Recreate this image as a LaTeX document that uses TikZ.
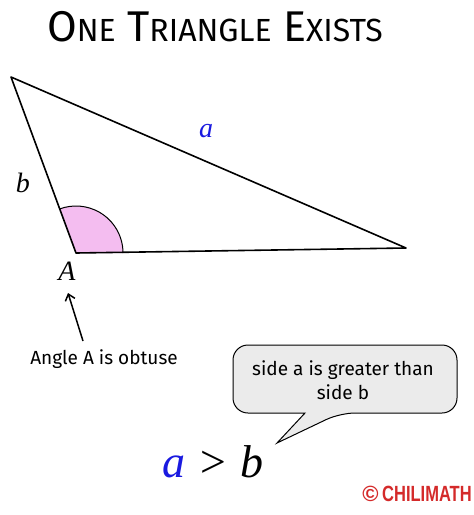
\documentclass[tikz,border=0pt]{standalone}
\usepackage{fontspec}
\setmainfont{Liberation Serif}
\newfontfamily\handfont{Fira Sans}
\newfontfamily\brandfont{Liberation Sans}
\usetikzlibrary{arrows.meta,calc}
\definecolor{angpink}{HTML}{F4BDF0}
\definecolor{calloutgray}{HTML}{EBEBEB}
\definecolor{brandred}{HTML}{D42A2A}
\definecolor{sideblue}{HTML}{1A1AE0}
\begin{document}
\begin{tikzpicture}[x=1pt,y=-1pt,
  edge/.style={line width=1.6pt, line join=round},
  lbl/.style={inner sep=0pt, font=\fontsize{28}{32}\selectfont\itshape},
  hand/.style={inner sep=0pt, font=\handfont\fontsize{19}{24}\selectfont, align=center}]
\useasboundingbox (0,0) rectangle (474,515);
% title
\node[inner sep=0pt, font=\handfont\fontsize{43}{48}\selectfont] (title) at (215,27)
  {O{\fontsize{32}{36}\selectfont NE} T{\fontsize{32}{36}\selectfont RIANGLE} E{\fontsize{32}{36}\selectfont XISTS}};
% triangle
\coordinate (C) at (11,77);
\coordinate (A) at (76,253);
\coordinate (B) at (406,248);
\coordinate (arcstart) at (123,253);
\fill[angpink] (A) -- (arcstart) arc[start angle=0, end angle=-110.3, radius=47] -- cycle;
\draw[line width=1pt] (arcstart) arc[start angle=0, end angle=-110.3, radius=47];
\draw[edge] (C) -- (A) -- (B) -- cycle;
\node[lbl, text=sideblue] (la) at (206,131) {a};
\node[lbl] (lb) at (23,183) {b};
\node[lbl] (lA) at (67,271) {A};
% arrow and note
\node[hand] (note) at (104,359) {Angle A is obtuse};
\coordinate (arrtip) at (68,293);
\coordinate (arrtail) at (83,341);
\draw[line width=1.5pt, -{Straight Barb[length=6pt,width=10pt]}] (arrtail) -- (arrtip);
% callout
\draw[line width=1pt, fill=calloutgray, rounded corners=15pt]
  (233,345) -- (457,345) -- (457,413) -- (340,413) [sharp corners] -- (277,443) -- (305,413) [rounded corners=15pt] -- (233,413) -- cycle;
\node[hand] (callout) at (343,380) {side a is greater than\\side b};
% inequality
\node[inner sep=0pt, font=\fontsize{46}{50}\selectfont] (ineq) at (213,462)
  {\textit{\textcolor{sideblue}{a}} \textit{>} \textit{b}};
% brand
\node[inner sep=0pt, text=brandred, font=\brandfont\bfseries\fontsize{22}{24}\selectfont] (brand) at (417,494)
  {\textcopyright\,\scalebox{0.75}[1]{CHILIMATH}};
\end{tikzpicture}
\end{document}
